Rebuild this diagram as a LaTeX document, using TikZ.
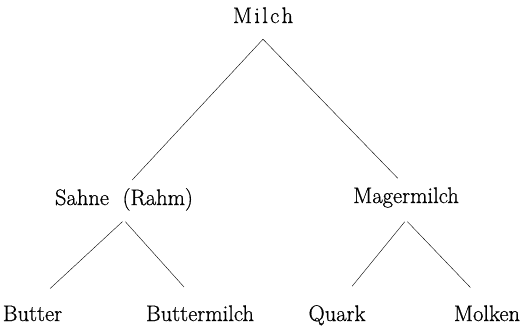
\documentclass[tikz,border=0pt]{standalone}
\usepackage{fontspec}
\usepackage{tikz}
\newfontfamily\scanfont{Latin Modern Roman}[FakeBold=0.7]

\begin{document}
\begin{tikzpicture}[x=1pt, y=-1pt,
  every node/.style={font=\scanfont\fontsize{22.5}{27}\selectfont},
  prod/.style={inner sep=0pt, text height=16pt, text depth=5pt, anchor=base},
  upper/.style={shorten >=12pt},
  lower/.style={shorten <=2pt, shorten >=24pt},
]
\useasboundingbox (0,0) rectangle (527,327);

% Ausgangsprodukt
\node[prod, text depth=16pt] (milch) at (263,23) {M\kern2.3pt i\kern2.3pt l\kern2.3pt c\kern2.3pt h};

% erste Stufe
\node[prod, text depth=15pt] (sahne) at (124,205) {Sahne\ \ (Rahm)};
\node[prod, text depth=17pt] (mager) at (406,203) {Magermilch};

% zweite Stufe
\node[prod] (butter) at (32.5,321) {Butter};
\node[prod] (bmilch) at (200,321) {Buttermilch};
\node[prod] (quark) at (337,321) {Quark};
\node[prod] (molken) at (487,321) {Molken};

% Verzweigungen
\draw[upper] (milch.south) -- (sahne.north);
\draw[upper] (milch.south) -- (mager.north);
\draw[lower] (sahne.south) -- (butter.north);
\draw[lower] (sahne.south) -- (bmilch.north);
\draw[lower] (mager.south) -- (quark.north);
\draw[lower] (mager.south) -- (molken.north);

\end{tikzpicture}
\end{document}
